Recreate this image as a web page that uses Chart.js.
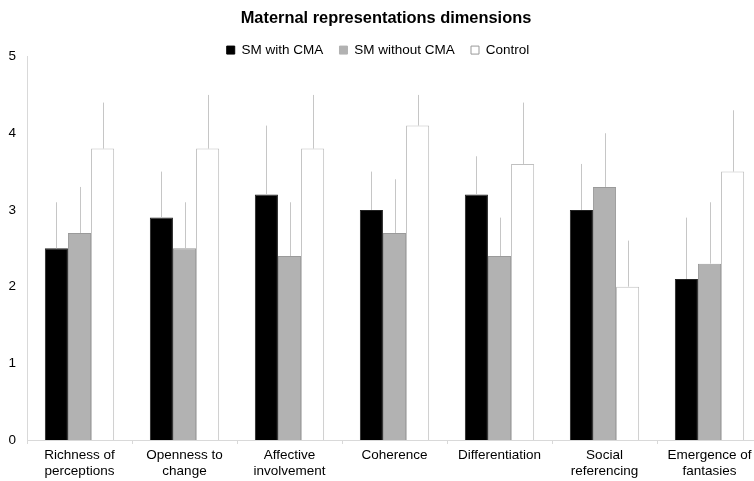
<!DOCTYPE html>
<html>
<head>
<meta charset="utf-8">
<script src="https://cdn.jsdelivr.net/npm/chart.js@4/dist/chart.umd.min.js"></script>
<style>
html,body{margin:0;padding:0;background:#fff;overflow:hidden;}
#wrap{position:relative;width:772px;height:481px;}
</style>
</head>
<body>
<div id="wrap"><canvas id="c"></canvas></div>
<script>
const categories = [
  ["Richness of","perceptions"],
  ["Openness to","change"],
  ["Affective","involvement"],
  "Coherence",
  "Differentiation",
  ["Social","referencing"],
  ["Emergence of","fantasies"]
];
const seriesNames = ["SM with CMA", "SM without CMA", "Control"];
const smWithCMA      = [2.5, 2.9, 3.2, 3.0, 3.2, 3.0, 2.1];
const smWithCMAsd    = [0.6, 0.6, 0.9, 0.5, 0.5, 0.6, 0.8];
const smWithoutCMA   = [2.7, 2.5, 2.4, 2.7, 2.4, 3.3, 2.3];
const smWithoutCMAsd = [0.6, 0.6, 0.7, 0.7, 0.5, 0.7, 0.8];
const control        = [3.8, 3.8, 3.8, 4.1, 3.6, 2.0, 3.5];
const controlSd      = [0.6, 0.7, 0.7, 0.4, 0.8, 0.6, 0.8];
const yTicks = [0, 1, 2, 3, 4, 5];

const FONT = "'Liberation Sans', Arial, sans-serif";

const errorBars = {
  id: 'errorBars',
  afterDatasetsDraw(chart) {
    const ctx = chart.ctx;
    const y = chart.scales.y;
    ctx.save();
    ctx.strokeStyle = '#c6c6c6';
    ctx.lineWidth = 1;
    chart.data.datasets.forEach((ds, i) => {
      const meta = chart.getDatasetMeta(i);
      meta.data.forEach((bar, j) => {
        const x = Math.round(bar.x) + 0.5;
        const top = y.getPixelForValue(ds.data[j] + ds.errors[j]);
        ctx.beginPath();
        ctx.moveTo(x, bar.y);
        ctx.lineTo(x, top);
        ctx.stroke();
      });
    });
    ctx.restore();
  }
};

const headerTweak = {
  id: 'headerTweak',
  beforeLayout(chart) {
    const lg = chart.legend;
    if (lg && !lg._patched) {
      const orig = lg.fit.bind(lg);
      lg.fit = function () { orig(); this.height = 29.5; };
      lg._patched = true;
    }
  },
  afterLayout(chart) {
    const lg = chart.legend;
    if (lg) { lg.left -= 3; lg.right -= 3; }
    const tb = chart.titleBlock;
    if (tb) { tb.left += 5; tb.right += 5; }
  }
};

new Chart(document.getElementById('c'), {
  type: 'bar',
  data: {
    labels: categories,
    datasets: [
      { label: seriesNames[0], data: smWithCMA, errors: smWithCMAsd,
        backgroundColor: '#000000', borderColor: '#222222', borderWidth: 1 },
      { label: seriesNames[1], data: smWithoutCMA, errors: smWithoutCMAsd,
        backgroundColor: '#b2b2b2', borderColor: '#9a9a9a', borderWidth: 1 },
      { label: seriesNames[2], data: control, errors: controlSd,
        backgroundColor: '#ffffff', borderColor: '#c0c0c0', borderWidth: 1 }
    ]
  },
  options: {
    responsive: true,
    maintainAspectRatio: false,
    animation: false,
    devicePixelRatio: 1,
    layout: { padding: { left: 0, right: 10, top: 0, bottom: 0 } },
    datasets: { bar: { categoryPercentage: 0.66, barPercentage: 1.0 } },
    plugins: {
      tooltip: { enabled: false },
      title: {
        display: true,
        text: 'Maternal representations dimensions',
        color: '#000',
        font: { family: FONT, size: 16.4, weight: 'bold' },
        padding: { top: 8.6, bottom: -1.2 }
      },
      legend: {
        display: true,
        labels: {
          color: '#000',
          font: { family: FONT, size: 13.5 },
          boxWidth: 8,
          boxHeight: 8,
          padding: 16.25,
          generateLabels(chart) {
            return chart.data.datasets.map((ds, i) => ({
              text: ds.label,
              fillStyle: ds.backgroundColor,
              strokeStyle: i === 2 ? '#999999' : ds.backgroundColor,
              lineWidth: 1,
              fontColor: '#000',
              datasetIndex: i,
              hidden: false
            }));
          }
        }
      }
    },
    scales: {
      x: {
        grid: { display: true, drawOnChartArea: false, drawTicks: true, tickLength: 4, color: '#d9d9d9', offset: true },
        border: { display: true, color: '#d9d9d9' },
        ticks: { color: '#000', font: { family: FONT, size: 13.5 }, padding: 3, maxRotation: 0, autoSkip: false },
        afterFit(scale) { scale.height = 41; }
      },
      y: {
        min: 0, max: 5,
        afterBuildTicks(scale) { scale.ticks = yTicks.map(v => ({ value: v })); },
        grid: { display: false, drawTicks: false },
        border: { display: true, color: '#d9d9d9' },
        ticks: { color: '#000', font: { family: FONT, size: 13.5 }, padding: 11 },
        afterFit(scale) { scale.width = 27; }
      }
    }
  },
  plugins: [errorBars, headerTweak]
});
</script>
</body>
</html>
